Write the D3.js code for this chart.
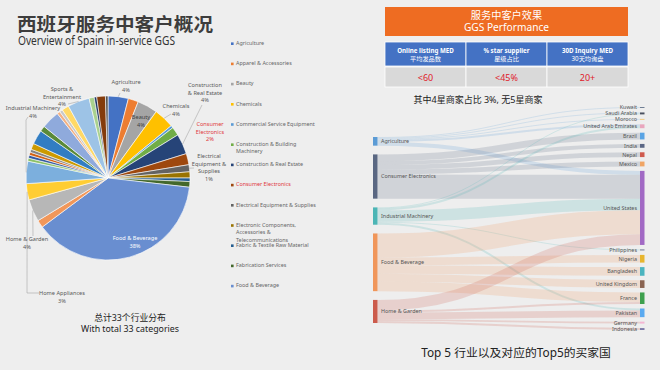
<!DOCTYPE html>
<html>
<head>
<meta charset="utf-8">
<script src="https://cdn.jsdelivr.net/npm/d3@7"></script>
<style>
  body { margin: 0; background: #eeeeee; }
  svg { display: block; }
</style>
</head>
<body>
<svg id="chart" width="660" height="370"></svg>
<script>
// ---- data ----
const pieCategories = [
  "Agriculture", "Apparel & Accessories", "Beauty", "Chemicals",
  "Commercial Service Equipment", "Construction & Building Machinery",
  "Construction & Real Estate", "Consumer Electronics",
  "Electrical Equipment & Supplies",
  "Electronic Components, Accessories & Telecommunications",
  "Fabric & Textile Raw Material", "Fabrication Services", "Food & Beverage",
  "Furniture", "Home & Garden", "Home Appliances", "Industrial Machinery",
  "Jewelry, Eyewear & Watches", "Lights & Lighting", "Luggage, Bags & Cases",
  "Medical Devices & Supplies", "Metallurgy, Chemicals, Rubber & Plastics",
  "Packaging & Printing", "Parents, Kids & Toys",
  "Personal Care & Household Cleaning", "Renewable Energy",
  "School & Office Supplies", "Shoes & Accessories", "Sports & Entertainment",
  "Tools & Hardware", "Vehicle Parts & Accessories", "Vehicles & Transportation",
  "Security & Protection"
];
// share of customers, %
const pieShares = [
  4, 2, 4, 4, 0.5, 1.7, 4, 2.2, 1.4, 1.2, 0.7, 1.1, 38,
  1.5, 4.4, 3.2, 4.4, 0.6, 0.6, 0.6, 0.6, 1.2, 2.8, 1.1, 3.6, 0.6,
  0.6, 1.4, 4.3, 1.0, 0.5, 1.7, 0.5
];
const legendCount = 13;

const perfTitle = ["服务中客户效果", "GGS Performance"];
const perfHeaders = [
  ["Online listing MED", "平均发品数"],
  ["% star supplier", "星级占比"],
  ["30D Inquiry MED", "30天均询盘"]
];
const perfValues = ["<60", "<45%", "20+"];
const perfNote = "其中4星商家占比 3%, 无5星商家";

const sankeySources = ["Agriculture", "Consumer Electronics", "Industrial Machinery",
  "Food & Beverage", "Home & Garden"];
const sankeyTargets = ["Kuwait", "Saudi Arabia", "Morocco", "United Arab Emirates",
  "Brazil", "India", "Nepal", "Mexico", "United States", "Philippines", "Nigeria",
  "Bangladesh", "United Kingdom", "France", "Pakistan", "Germany", "Indonesia"];
const flows = [
  ["Agriculture", "United States", 4],
  ["Agriculture", "United Arab Emirates", 2],
  ["Agriculture", "Kuwait", 1],
  ["Agriculture", "Saudi Arabia", 1],
  ["Agriculture", "Morocco", 1],
  ["Consumer Electronics", "United States", 25],
  ["Consumer Electronics", "Brazil", 7],
  ["Consumer Electronics", "India", 4],
  ["Consumer Electronics", "Nepal", 5],
  ["Consumer Electronics", "Mexico", 5],
  ["Industrial Machinery", "United States", 12],
  ["Industrial Machinery", "United Arab Emirates", 2],
  ["Industrial Machinery", "Saudi Arabia", 1],
  ["Industrial Machinery", "Philippines", 1],
  ["Industrial Machinery", "Pakistan", 2],
  ["Food & Beverage", "United States", 25],
  ["Food & Beverage", "France", 10],
  ["Food & Beverage", "Bangladesh", 9],
  ["Food & Beverage", "Nigeria", 8],
  ["Food & Beverage", "United Kingdom", 8],
  ["Home & Garden", "United States", 11],
  ["Home & Garden", "Pakistan", 7],
  ["Home & Garden", "France", 2],
  ["Home & Garden", "Germany", 2],
  ["Home & Garden", "Indonesia", 2]
];

const pieNote = ["总计33个行业分布", "With total 33 categories"];
const sankeyNote = "Top 5 行业以及对应的Top5的买家国";

// ---- styles ----
const FONT = "'Noto Sans', 'Noto Sans CJK SC', sans-serif";
const officePalette = [
  "#4472c4", "#ed7d31", "#a5a5a5", "#ffc000", "#5b9bd5", "#70ad47",
  "#264478", "#9e480e", "#636363", "#997300", "#255e91", "#43682b",
  "#698ed0", "#f1975a", "#b7b7b7", "#ffcd33", "#7cafdd", "#8cc168",
  "#335aa1", "#d26012", "#848484", "#cc9a00", "#327dc2", "#5a8a39",
  "#8faadc", "#f4b183", "#c9c9c9", "#ffd966", "#9dc3e6", "#a9d18e",
  "#203864", "#843c0c", "#525252"
];
const sourceColors = ["#5b9bd5", "#5a6782", "#4cb5b5", "#f0965a", "#cc5b4c"];
const targetColors = ["#6b7a90", "#4a5060", "#f2c879", "#e9a6bd", "#5aa4e4", "#5b6785",
  "#cf5a4e", "#f0a565", "#a169c4", "#6a7590", "#e7b52e", "#4bb4bf", "#8a6452",
  "#3ea04e", "#5aaaf0", "#f4b6d2", "#7c7aa8"];

const svg = d3.select("#chart");
svg.append("rect").attr("width", 660).attr("height", 370).attr("fill", "#eeeeee");

// ---- title ----
svg.append("text")
  .attr("x", 17).attr("y", 31)
  .attr("font-family", FONT).attr("font-size", 18).attr("font-weight", 700)
  .attr("fill", "#3d3d3d")
  .attr("textLength", 196).attr("lengthAdjust", "spacingAndGlyphs")
  .text("西班牙服务中客户概况");
svg.append("text")
  .attr("x", 18).attr("y", 45)
  .attr("font-family", FONT).attr("font-size", 12)
  .attr("fill", "#333")
  .attr("textLength", 157).attr("lengthAdjust", "spacingAndGlyphs")
  .text("Overview of Spain in-service GGS");

// ---- pie ----
const pieCx = 108, pieCy = 178, pieR = 82;
const color = d3.scaleOrdinal().domain(d3.range(pieCategories.length)).range(officePalette);
const total = d3.sum(pieShares);
const pie = d3.pie().sort(null).value(d => d);
const arcs = pie(pieShares);
const arc = d3.arc().innerRadius(0).outerRadius(pieR);

const pieG = svg.append("g").attr("transform", `translate(${pieCx},${pieCy})`);
pieG.selectAll("path")
  .data(arcs)
  .join("path")
  .attr("d", arc)
  .attr("fill", (d, i) => color(i))
  .attr("stroke", "#fff")
  .attr("stroke-width", 0.6);

function pct(name) {
  const i = pieCategories.indexOf(name);
  return Math.round(pieShares[i] / total * 100) + "%";
}
function edgePoint(name) {
  const a = arcs[pieCategories.indexOf(name)];
  const mid = (a.startAngle + a.endAngle) / 2;
  return [pieCx + Math.sin(mid) * pieR, pieCy - Math.cos(mid) * pieR];
}

// label placement (Excel style, positions of text + where the leader starts)
const pieLabelLayout = [
  {name: "Agriculture", lines: ["Agriculture"], x: 126, y: 84, lead: [[120, 93]]},
  {name: "Beauty", lines: ["Beauty"], x: 141, y: 119, fill: "#404040"},
  {name: "Chemicals", lines: ["Chemicals"], x: 176, y: 108, lead: [[171, 114]]},
  {name: "Construction & Real Estate", lines: ["Construction", "& Real Estate"], x: 205, y: 87, lead: [[202, 105]]},
  {name: "Consumer Electronics", lines: ["Consumer", "Electronics"], x: 210, y: 126, fill: "#e0393e"},
  {name: "Electrical Equipment & Supplies", lines: ["Electrical", "Equipment &", "Supplies"], x: 209, y: 158, lead: [[194, 168]]},
  {name: "Food & Beverage", lines: ["Food & Beverage"], x: 135, y: 240, fill: "#ffffff"},
  {name: "Home & Garden", lines: ["Home & Garden"], x: 27, y: 241, lead: [[33, 236]]},
  {name: "Home Appliances", lines: ["Home Appliances"], x: 62, y: 295, lead: [[39, 293], [27, 293]]},
  {name: "Industrial Machinery", lines: ["Industrial Machinery"], x: 33, y: 110, lead: [[28, 117], [26, 120]]},
  {name: "Sports & Entertainment", lines: ["Sports &", "Entertainment"], x: 62, y: 91, lead: [[68, 104]]}
];

const leaderG = svg.append("g");
pieLabelLayout.filter(d => d.lead).forEach(d => {
  const pts = d.lead.concat([edgePoint(d.name)]);
  leaderG.append("path")
    .attr("d", d3.line()(pts))
    .attr("fill", "none")
    .attr("stroke", "#a6a6a6")
    .attr("stroke-width", 0.6);
});

const labelG = svg.append("g")
  .attr("font-family", FONT).attr("font-size", 5.6).attr("text-anchor", "middle");
pieLabelLayout.forEach(d => {
  const t = labelG.append("text")
    .attr("x", d.x).attr("y", d.y)
    .attr("fill", d.fill || "#595959");
  d.lines.concat([pct(d.name)]).forEach((line, k) => {
    t.append("tspan").attr("x", d.x).attr("dy", k === 0 ? 0 : 7.6).text(line);
  });
});

// ---- legend ----
function wrap(textSel, width, lineH) {
  textSel.each(function() {
    const t = d3.select(this);
    const words = t.text().split(/\s+/);
    const x = t.attr("x");
    t.text(null);
    let line = [];
    let tspan = t.append("tspan").attr("x", x).attr("dy", 0);
    words.forEach(w => {
      line.push(w);
      tspan.text(line.join(" "));
      if (tspan.node().getComputedTextLength() > width && line.length > 1) {
        line.pop();
        tspan.text(line.join(" "));
        line = [w];
        tspan = t.append("tspan").attr("x", x).attr("dy", lineH).text(w);
      }
    });
  });
}

const legendY = d3.scaleLinear().domain([0, 1]).range([45, 65.2]);
const legend = svg.append("g")
  .selectAll("g")
  .data(pieCategories.slice(0, legendCount))
  .join("g")
  .attr("transform", (d, i) => `translate(231,${legendY(i)})`);
legend.append("rect")
  .attr("x", 0).attr("y", -2.6).attr("width", 2.6).attr("height", 2.6)
  .attr("fill", (d, i) => color(i));
legend.append("text")
  .attr("x", 5).attr("y", 0)
  .attr("font-family", FONT).attr("font-size", 5.4)
  .attr("fill", d => d === "Consumer Electronics" ? "#e0393e" : "#666")
  .text(d => d)
  .call(wrap, 86, 7.4);

// ---- pie note ----
svg.append("g")
  .attr("font-family", FONT).attr("text-anchor", "middle").attr("fill", "#222")
  .selectAll("text")
  .data(pieNote)
  .join("text")
  .attr("x", 130)
  .attr("y", (d, i) => 321 + i * 10.5)
  .attr("font-size", 8.8)
  .text(d => d);

// ---- performance table ----
const colX = d3.scaleBand().domain(d3.range(perfHeaders.length)).range([385, 628]);

svg.append("rect")
  .attr("x", 385).attr("y", 7).attr("width", 243).attr("height", 29)
  .attr("fill", "#ee6c22");
svg.append("g")
  .attr("font-family", FONT).attr("text-anchor", "middle").attr("fill", "#fff")
  .selectAll("text")
  .data(perfTitle)
  .join("text")
  .attr("x", 506.5)
  .attr("y", (d, i) => 19 + i * 12)
  .attr("font-size", 10.2)
  .text(d => d);

const headG = svg.append("g");
headG.selectAll("rect")
  .data(perfHeaders)
  .join("rect")
  .attr("x", (d, i) => colX(i)).attr("y", 42)
  .attr("width", colX.bandwidth()).attr("height", 24)
  .attr("fill", "#4472c4")
  .attr("stroke", "#fff").attr("stroke-width", 0.8);
headG.selectAll("text")
  .data(perfHeaders)
  .join("text")
  .attr("font-family", FONT).attr("text-anchor", "middle").attr("fill", "#fff")
  .attr("font-size", 6.2)
  .each(function(d, i) {
    const t = d3.select(this);
    d.forEach((line, k) => {
      t.append("tspan")
        .attr("x", colX(i) + colX.bandwidth() / 2)
        .attr("y", 53 + k * 7.5)
        .attr("font-weight", k === 0 ? 700 : 400)
        .text(line);
    });
  });

const valG = svg.append("g");
valG.selectAll("rect")
  .data(perfValues)
  .join("rect")
  .attr("x", (d, i) => colX(i)).attr("y", 67)
  .attr("width", colX.bandwidth()).attr("height", 20)
  .attr("fill", "#d9d9d9")
  .attr("stroke", "#fff").attr("stroke-width", 0.8);
valG.selectAll("text")
  .data(perfValues)
  .join("text")
  .attr("x", (d, i) => colX(i) + colX.bandwidth() / 2)
  .attr("y", 80.5)
  .attr("font-family", FONT).attr("font-size", 9).attr("text-anchor", "middle")
  .attr("fill", "#e0202a")
  .text(d => d);

svg.append("text")
  .attr("x", 478).attr("y", 102.5)
  .attr("font-family", FONT).attr("font-size", 9).attr("text-anchor", "middle")
  .attr("fill", "#222")
  .text(perfNote);

// ---- sankey (hand-rolled layout) ----
const sk = {left: 373, right: 640, nodeW: 4.5, leftTop: 137, leftBottom: 323,
  rightTop: 107, rightBottom: 330, pad: 4.5};
const flowTotal = d3.sum(flows, d => d[2]);
const ky = (sk.rightBottom - sk.rightTop - (sankeyTargets.length - 1) * sk.pad) / flowTotal;
const valueToPx = d3.scaleLinear().domain([0, flowTotal]).range([0, flowTotal * ky]);

function buildColumn(names, colors, key, x, top, bottom) {
  const nodes = names.map((name, i) => ({
    name, color: colors[i], x0: x, x1: x + sk.nodeW,
    value: d3.sum(flows.filter(f => f[key] === name), f => f[2])
  }));
  const used = d3.sum(nodes, n => valueToPx(n.value));
  const gap = (bottom - top - used) / (nodes.length - 1);
  let y = top;
  nodes.forEach(n => {
    n.y0 = y;
    n.y1 = y + valueToPx(n.value);
    y = n.y1 + gap;
  });
  return nodes;
}
const leftNodes = buildColumn(sankeySources, sourceColors, 0, sk.left, sk.leftTop, sk.leftBottom);
const rightNodes = buildColumn(sankeyTargets, targetColors, 1, sk.right, sk.rightTop, sk.rightBottom);
const byName = new Map(leftNodes.concat(rightNodes).map(n => [n.name, n]));

const links = flows.map(f => ({
  source: byName.get(f[0]), target: byName.get(f[1]), value: f[2], width: valueToPx(f[2])
}));
// stack links at each node, ordered by the position of the other end
leftNodes.forEach(n => {
  let y = n.y0;
  links.filter(l => l.source === n)
    .sort((a, b) => a.target.y0 - b.target.y0)
    .forEach(l => { l.sy = y + l.width / 2; y += l.width; });
});
rightNodes.forEach(n => {
  let y = n.y0;
  links.filter(l => l.target === n)
    .sort((a, b) => a.source.y0 - b.source.y0)
    .forEach(l => { l.ty = y + l.width / 2; y += l.width; });
});

const linkPath = d3.linkHorizontal()
  .source(d => [d.source.x1, d.sy])
  .target(d => [d.target.x0, d.ty]);

svg.append("g")
  .attr("fill", "none")
  .selectAll("path")
  .data(links)
  .join("path")
  .attr("d", linkPath)
  .attr("stroke", d => d.source.color)
  .attr("stroke-opacity", 0.2)
  .attr("stroke-width", d => Math.max(0.8, d.width));

const nodeG = svg.append("g");
nodeG.selectAll("rect")
  .data(leftNodes.concat(rightNodes))
  .join("rect")
  .attr("x", d => d.x0).attr("y", d => d.y0)
  .attr("width", d => d.x1 - d.x0)
  .attr("height", d => Math.max(0.9, d.y1 - d.y0))
  .attr("fill", d => d.color);

nodeG.selectAll("text")
  .data(leftNodes.concat(rightNodes))
  .join("text")
  .attr("x", d => d.x0 === sk.left ? d.x1 + 3.5 : d.x0 - 3)
  .attr("y", d => (d.y0 + d.y1) / 2)
  .attr("dy", "0.35em")
  .attr("text-anchor", d => d.x0 === sk.left ? "start" : "end")
  .attr("font-family", FONT).attr("font-size", 5.4)
  .attr("fill", "#555")
  .text(d => d.name);

svg.append("text")
  .attr("x", 516).attr("y", 357)
  .attr("font-family", FONT).attr("font-size", 11.8).attr("text-anchor", "middle")
  .attr("fill", "#222")
  .text(sankeyNote);
</script>
</body>
</html>
